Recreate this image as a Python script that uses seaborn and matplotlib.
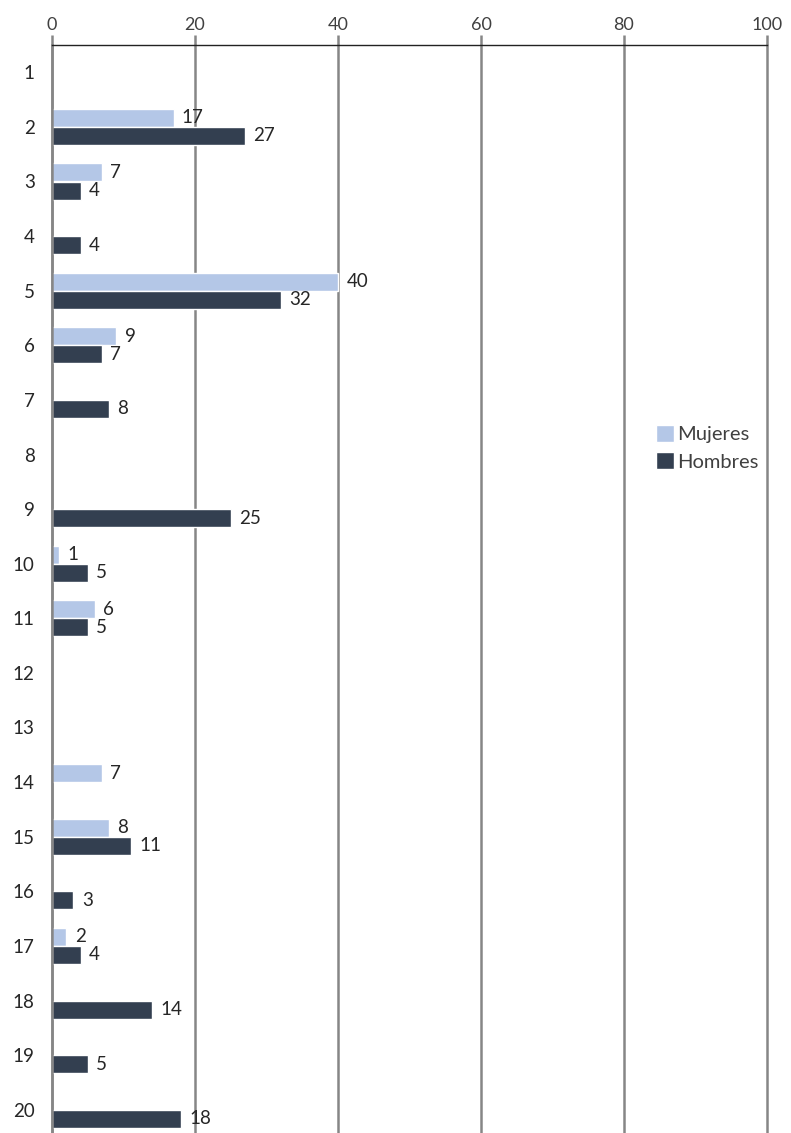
import numpy as np
import pandas as pd
import matplotlib
matplotlib.use("Agg")
import matplotlib.pyplot as plt
import seaborn as sns

# === Data ===
categorias = [str(i) for i in range(1, 21)]
mujeres = [np.nan, 17, 7, np.nan, 40, 9, np.nan, np.nan, np.nan, 1,
           6, np.nan, np.nan, 7, 8, np.nan, 2, np.nan, np.nan, np.nan]
hombres = [np.nan, 27, 4, 4, 32, 7, 8, np.nan, 25, 5,
           5, np.nan, np.nan, np.nan, 11, 3, 4, 14, 5, 18]
series = ["Mujeres", "Hombres"]
colores = ["#B4C7E7", "#333F50"]
xticks = [0, 20, 40, 60, 80, 100]

df = pd.DataFrame({
    "cat": categorias * 2,
    "valor": mujeres + hombres,
    "grupo": [series[0]] * len(categorias) + [series[1]] * len(categorias),
})

# === Plot ===
sns.set_style("white")
plt.rcParams["font.family"] = ["Lato", "DejaVu Sans"]

fig = plt.figure(figsize=(7.91, 11.33), dpi=100)
ax = fig.add_axes([52 / 791, -4 / 1133, 715 / 791, 1092 / 1133])

sns.barplot(data=df, y="cat", x="valor", hue="grupo", order=categorias,
            hue_order=series, palette=colores, orient="h", width=0.66,
            saturation=1, ax=ax, errorbar=None, legend=True)

for cont in ax.containers:
    ax.bar_label(cont, labels=["" if np.isnan(v) else f"{v:.0f}" for v in cont.datavalues],
                 padding=6, fontsize=13.5, color="#262626")

ax.set_xlim(0, 100)
ax.set_xticks(xticks)
ax.xaxis.tick_top()
ax.set_xlabel("")
ax.set_ylabel("")
ax.grid(axis="x", color="#868686", linewidth=1.8)
for gl in ax.get_xgridlines():
    gl.set_clip_on(False)
ax.set_axisbelow(True)
ax.tick_params(axis="x", top=True, length=7, width=1.8, color="#868686",
               labelsize=13, labelcolor="#404040", pad=2)
ax.tick_params(axis="y", left=False, labelsize=13.5, labelcolor="#262626", pad=9)
ax.spines["top"].set_color("#222222")
ax.spines["top"].set_linewidth(1.0)
ax.spines["left"].set_color("#868686")
ax.spines["left"].set_linewidth(1.8)
ax.spines["right"].set_visible(False)
ax.spines["bottom"].set_visible(False)

ax.legend(loc="center left", bbox_to_anchor=(0.833, 0.631), frameon=False,
          fontsize=14.5, handlelength=0.9, handleheight=0.9, handletextpad=0.15,
          labelspacing=0.45, borderaxespad=0, labelcolor="#404040")

plt.savefig("out.png", dpi=100)
